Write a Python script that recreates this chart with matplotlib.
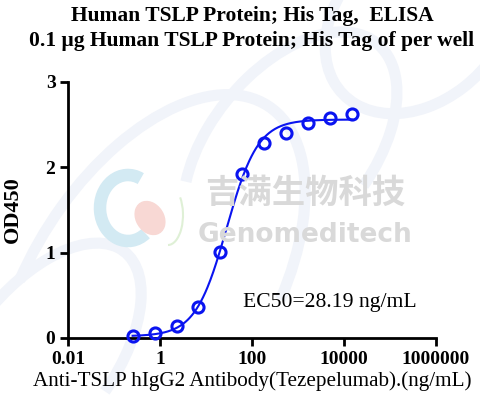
import numpy as np
import matplotlib
matplotlib.use('Agg')
import matplotlib.pyplot as plt
from matplotlib.patches import Arc, Ellipse

# antibody concentration (ng/mL) and OD450 readings
conc = [0.254, 0.762, 2.286, 6.859, 20.58, 61.73, 185.2, 555.6, 1667, 5000, 15000]
od450 = [0.02, 0.055, 0.144, 0.367, 1.01, 1.92, 2.29, 2.40, 2.52, 2.575, 2.63]

# 4PL fit parameters
bottom = 0.02
top = 2.56
ec50 = 28.19
hill = 1.28

xticks = [0.01, 1, 100, 10000, 1000000]
xticklabels = ['0.01', '1', '100', '10000', '1000000']
yticks = [0, 1, 2, 3]

serif = ['Liberation Serif', 'DejaVu Serif']
blue = '#0a14f0'
W, H = 481, 403

fig = plt.figure(figsize=(4.81, 4.03), dpi=100)
ax = fig.add_axes([68/W, (H-338)/H, (436-68)/W, (338-82)/H])

def px(x, y):
    return (x / W, 1 - y / H)

# faint background strokes of the watermark
for (c, w, h, a, t1, t2) in [(px(150, 290), 250, 420, -25, 20, 200),
                             (px(290, 150), 170, 260, -30, 0, 230),
                             (px(420, 20), 170, 200, -30, 170, 360),
                             (px(40, 360), 150, 260, -30, 0, 180)]:
    fig.add_artist(Arc(c, w / W, h / H, angle=a, theta1=t1, theta2=t2,
                       transform=fig.transFigure, color='#f1f4fa', lw=8, zorder=0))

# logo
fig.add_artist(Arc(px(128, 208), 56 / W, 66 / H, angle=0, theta1=70, theta2=300,
                   transform=fig.transFigure, color='#d3eaf3', lw=9, zorder=0))
fig.add_artist(Ellipse(px(150, 218), 28 / W, 34 / H, angle=20,
                       transform=fig.transFigure, color='#f8d8d4', zorder=0))
fig.add_artist(Arc(px(168, 215), 30 / W, 60 / H, angle=0, theta1=-90, theta2=60,
                   transform=fig.transFigure, color='#dff0d6', lw=1.5, zorder=0))

fig.text(305 / W, 1 - 193 / H, '吉满生物科技', family=['Noto Sans CJK SC', 'DejaVu Sans'],
         fontsize=24, fontweight='bold', color='#d9d9d9', ha='center', va='center', zorder=1)
fig.text(305 / W, 1 - 235 / H, 'Genomeditech', family=['DejaVu Sans'],
         fontsize=19, fontweight='bold', color='#d9d9d9', ha='center', va='center', zorder=1)

xs = np.logspace(np.log10(conc[0]), np.log10(conc[-1]), 300)
ys = bottom + (top - bottom) / (1 + (ec50 / xs) ** hill)
ax.plot(xs, ys, color=blue, lw=1.5, zorder=3)
ax.plot(conc, od450, 'o', ms=8, mfc='none', mec=blue, mew=2.2, zorder=4, clip_on=False)

ax.set_xscale('log')
ax.set_xlim(0.01, 1000000)
ax.set_ylim(0, 3)
ax.set_xticks(xticks)
ax.set_xticklabels(xticklabels)
ax.xaxis.set_minor_locator(matplotlib.ticker.NullLocator())
ax.set_yticks(yticks)
ax.patch.set_alpha(0)

for s in ['top', 'right']:
    ax.spines[s].set_visible(False)
for s in ['left', 'bottom']:
    ax.spines[s].set_linewidth(2)
ax.tick_params(width=2, length=6, direction='out', pad=3)
for lab in ax.get_xticklabels() + ax.get_yticklabels():
    lab.set_family(serif)
    lab.set_fontweight('bold')
    lab.set_fontsize(14)

ax.set_ylabel('OD450', family=serif, fontweight='bold', fontsize=16)
ax.yaxis.set_label_coords(-0.122, 0.5)
ax.set_xlabel('Anti-TSLP hIgG2 Antibody(Tezepelumab).(ng/mL)', family=serif, fontsize=15.2, labelpad=3)
ax.text(243 / W, 0.42, 'EC50=28.19 ng/mL', family=serif, fontsize=15.6, va='center',
        transform=matplotlib.transforms.blended_transform_factory(fig.transFigure, ax.transData))

fig.text(0.524, 1 - 16 / H, 'Human TSLP Protein; His Tag,  ELISA', family=serif,
         fontweight='bold', fontsize=15.5, ha='center', va='center')
fig.text(0.524, 1 - 41 / H, '0.1 μg Human TSLP Protein; His Tag of per well', family=serif,
         fontweight='bold', fontsize=15.5, ha='center', va='center')

fig.savefig('out.png', dpi=100)
